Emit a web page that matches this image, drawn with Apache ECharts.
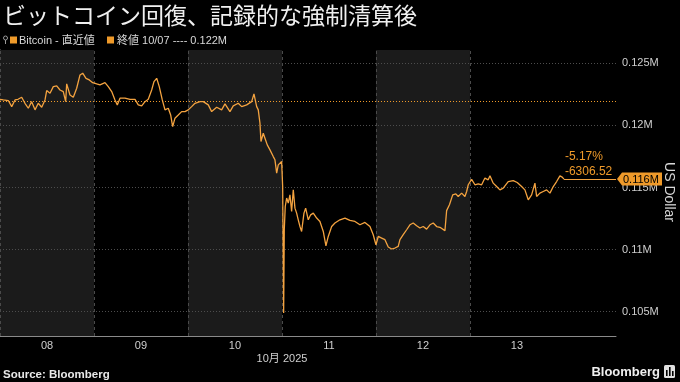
<!DOCTYPE html>
<html><head><meta charset="utf-8">
<script src="https://cdn.jsdelivr.net/npm/echarts@6/dist/echarts.min.js"></script>
<style>html,body{margin:0;padding:0;background:#000;}#c{width:680px;height:382px;}</style>
</head><body><div id="c"></div>
<script>
// ---- data ----
const titleText = 'ビットコイン回復、記録的な強制清算後';
const legendSeries = 'Bitcoin - 直近値';
const legendClose = '終値 10/07 ---- 0.122M';
const axisMonthLabel = '10月 2025';
const yAxisName = 'US Dollar';
const sourceText = 'Source: Bloomberg';
const brandText = 'Bloomberg';

// hours since 2025-10-08 00:00
const hours = [
 0,0.84,2.12,2.99,3.83,4.6,5.54,6.38,7.23,8.09,8.94,9.78,10.65,11.49,11.92,12.77,13.61,14.48,15.32,16.16,
 16.77,17.03,17.87,18.72,19.58,20.43,21.12,21.96,22.8,23.67,24.69,25.53,26.81,27.65,28.52,29.36,29.95,30.64,31.91,33.19,
 34.47,35.31,36.18,37.02,37.86,38.73,39.32,40.01,40.67,41.44,42.13,42.97,43.58,44.09,44.68,45.52,46.39,47.23,48.07,48.94,
 49.79,51.06,51.91,53.18,54.05,55.33,56.6,57.45,58.72,59.56,60.84,61.71,62.99,64.26,64.85,65.54,65.95,66.38,66.64,67.23,
 67.66,68.25,68.94,69.78,70.21,70.65,71.06,71.49,71.92,72.18,72.43,72.59,72.84,73.2,73.61,74.04,74.47,74.89,75.32,75.75,
 76.16,76.6,77.02,77.62,78.05,78.72,79.33,80,80.86,81.7,82.55,83.23,83.82,84.69,85.53,86.81,88.09,89.36,90.64,91.91,
 93.19,94.47,95.31,96,96.59,97.46,98.3,99.14,100.01,100.85,101.69,102.13,102.97,103.84,104.68,105.52,106.39,107.23,108.08,108.94,
 109.79,110.63,111.5,112.34,113.62,114.05,114.77,115.6,116.4,117.01,117.45,117.88,118.3,118.72,119.16,119.57,120.43,121.28,122.12,122.99,
 123.83,124.67,125.11,125.95,126.82,127.66,128.5,129.78,131.06,132.08,133.2,134.04,134.89,135.75,136.6,137.03,137.87,138.72,139.58,140.43,
 141.28,142.14,142.98,143.57,144
];
const prices = [
 122100,122050,122000,121510,122050,122100,122270,121780,121380,121910,121250,121780,121460,122050,122800,122590,123120,123180,122850,122720,
 121910,123340,122450,122270,122990,124060,124200,123790,123660,123440,123340,123260,123440,123120,122720,122050,121650,122190,122190,122100,
 122100,121650,121570,121910,122100,122850,123520,123790,123120,122050,121250,121380,120840,119900,120580,120840,121110,121110,121250,121510,
 121780,121910,121910,121650,121110,121460,121250,121730,121110,121570,121780,121510,121650,121910,122530,121510,121250,120180,118700,119370,
 118970,118430,118030,117490,117230,116160,116820,116690,117090,115080,104900,111600,113470,114150,113750,114410,113070,114810,113340,112940,
 112400,111860,111460,112940,113340,112400,112800,112940,112540,112270,111460,110310,111060,111860,112140,112400,112540,112350,112270,112000,
 112190,111860,111200,110390,111060,110930,110800,110210,110050,110130,110260,110800,111200,111600,112000,112140,111920,111740,111860,111650,
 112000,112140,111860,111800,111530,113140,113610,114410,114490,114280,114150,114550,114410,114280,114680,115220,115650,115220,115300,115220,
 115760,115620,115940,115350,115080,114810,114950,115480,115560,115400,115080,114810,114010,114410,115350,114280,114550,114680,114810,114550,
 115080,115480,115940,115840,115676
];
const refClose = 121982.52;           // 終値 10/07
const dayLabels = ['08','09','10','11','12','13'];
const dayLabelHours = [12,36,60,84,108,132];
const shadedDays = [[0,24],[48,72],[96,120]];
const dayBoundaries = [0,24,48,72,96,120];
const yTickValues = [105000,107500,110000,112500,115000,117500,120000,122500,125000];
const yLabelValues = [105000,110000,115000,120000,125000];
const xMin = 0, xMax = 157.3;
const yMin = 103047, yMax = 126069;

// ---- chart ----
const ORANGE = '#f4a340';
const ORANGE2 = '#ef9a2a';
const chart = echarts.init(document.getElementById('c'), null, {renderer:'canvas'});
const lastH = hours[hours.length-1];
const lastV = prices[prices.length-1];
const change = lastV - refClose;
const pct = change / refClose * 100;

const gridLines = yLabelValues.map(v => ({yAxis: v, lineStyle:{color:'#4d4d4d', type:[1,2], width:1}}));
const vLines = dayBoundaries.map(h => ({xAxis: h, lineStyle:{color:'#4a4a4a', type:[3,3], width:1}}));

chart.setOption({
  backgroundColor:'#000',
  animation:false,
  grid:{left:0, right:64, top:50, bottom:46, outerBoundsMode:'none'},
  xAxis:{
    type:'value', min:xMin, max:xMax,
    axisLine:{show:true, lineStyle:{color:'#8a8a8a', width:1}},
    axisTick:{show:false},
    splitLine:{show:false},
    axisLabel:{customValues: dayLabelHours, formatter: v => dayLabels[dayLabelHours.indexOf(v)] || '',
      color:'#cfcfcf', fontSize:11, margin:4, fontFamily:'Liberation Sans'}
  },
  yAxis:{
    type:'value', position:'right', min:yMin, max:yMax,
    axisLine:{show:true, lineStyle:{color:'#8a8a8a', width:1}},
    axisTick:{show:true, customValues: yTickValues, length:4, lineStyle:{color:'#8a8a8a'}},
    splitLine:{show:false},
    axisLabel:{customValues: yLabelValues, formatter: v => (v/1e6) + 'M',
      color:'#cfcfcf', fontSize:11, margin:6, fontFamily:'Liberation Sans'}
  },
  series:[{
    type:'line',
    data: hours.map((h,i)=>[h, prices[i]]),
    showSymbol:false, symbol:'none',
    lineStyle:{color:ORANGE, width:1.3},
    z:5,
    markArea:{silent:true, itemStyle:{color:'#1b1b1b'},
      data: shadedDays.map(d => [{xAxis:d[0]},{xAxis:d[1]}])},
    markLine:{silent:true, symbol:['none','none'], label:{show:false},
      data: [
        ...gridLines, ...vLines,
        {yAxis: refClose, lineStyle:{color:ORANGE2, type:[1,2], width:1}},
        [{coord:[lastH,lastV], lineStyle:{color:ORANGE, type:'solid', width:1}},{coord:[xMax,lastV]}]
      ]}
  }]
});

const p = chart.convertToPixel({gridIndex:0}, [lastH, lastV]);
const axisX = chart.convertToPixel({gridIndex:0}, [xMax, lastV])[0];
const ly = p[1];
const boxW = 46;

chart.setOption({graphic:[
  {type:'text', left:3, top:4, style:{text:titleText, fill:'#f0f0f0', font:'normal 23px "Noto Sans CJK JP"'}},
  {type:'circle', shape:{cx:5.5, cy:38, r:2}, style:{fill:'none', stroke:'#9a9a9a', lineWidth:1}},
  {type:'line', shape:{x1:5.5, y1:40, x2:5.5, y2:44}, style:{stroke:'#9a9a9a', lineWidth:1}},
  {type:'rect', shape:{x:10, y:36.5, width:7, height:7}, style:{fill:ORANGE2}},
  {type:'text', x:19, y:40.5, style:{text:legendSeries, fill:'#d8d8d8', font:'11px "Liberation Sans", "Noto Sans CJK JP"', verticalAlign:'middle'}},
  {type:'rect', shape:{x:107, y:36.5, width:7, height:7}, style:{fill:ORANGE2}},
  {type:'text', x:117, y:40.5, style:{text:legendClose, fill:'#d8d8d8', font:'11px "Liberation Sans", "Noto Sans CJK JP"', verticalAlign:'middle'}},
  {type:'text', x:282, y:359, style:{text:axisMonthLabel, fill:'#cfcfcf', font:'11px "Liberation Sans", "Noto Sans CJK JP"', align:'center', verticalAlign:'middle'}},
  {type:'text', x:669, y:192, rotation:-Math.PI/2, style:{text:yAxisName, fill:'#d8d8d8', font:'14px "Liberation Sans"', align:'center', verticalAlign:'middle'}},
  {type:'text', x:3, y:375, style:{text:sourceText, fill:'#e8e8e8', font:'bold 11.5px "Liberation Sans"', verticalAlign:'middle'}},
  {type:'text', x:660, y:372, style:{text:brandText, fill:'#f0f0f0', font:'bold 13px "Liberation Sans"', align:'right', verticalAlign:'middle'}},
  {type:'rect', shape:{x:664, y:365, width:11, height:13, r:1.5}, style:{fill:'#e0e0e0'}},
  {type:'rect', shape:{x:666, y:370, width:1.6, height:6}, style:{fill:'#000'}},
  {type:'rect', shape:{x:669, y:367, width:1.6, height:9}, style:{fill:'#000'}},
  {type:'rect', shape:{x:672, y:371, width:1.6, height:5}, style:{fill:'#000'}},
  {type:'text', x:p[0]+1, y:ly-22, style:{text:pct.toFixed(2)+'%', fill:ORANGE2, font:'12px "Liberation Sans"', verticalAlign:'middle'}},
  {type:'text', x:p[0]+1, y:ly-7, style:{text:change.toFixed(2), fill:ORANGE2, font:'12px "Liberation Sans"', verticalAlign:'middle'}},
  {type:'polygon', z:20, shape:{points:[[axisX+1,ly],[axisX+6,ly-6.5],[axisX+boxW,ly-6.5],[axisX+boxW,ly+6.5],[axisX+6,ly+6.5]]}, style:{fill:ORANGE2}},
  {type:'text', z:21, x:axisX+7, y:ly+0.5, style:{text:(lastV/1e6).toFixed(3)+'M', fill:'#000', font:'11px "Liberation Sans"', verticalAlign:'middle'}}
]});
</script>
</body></html>
